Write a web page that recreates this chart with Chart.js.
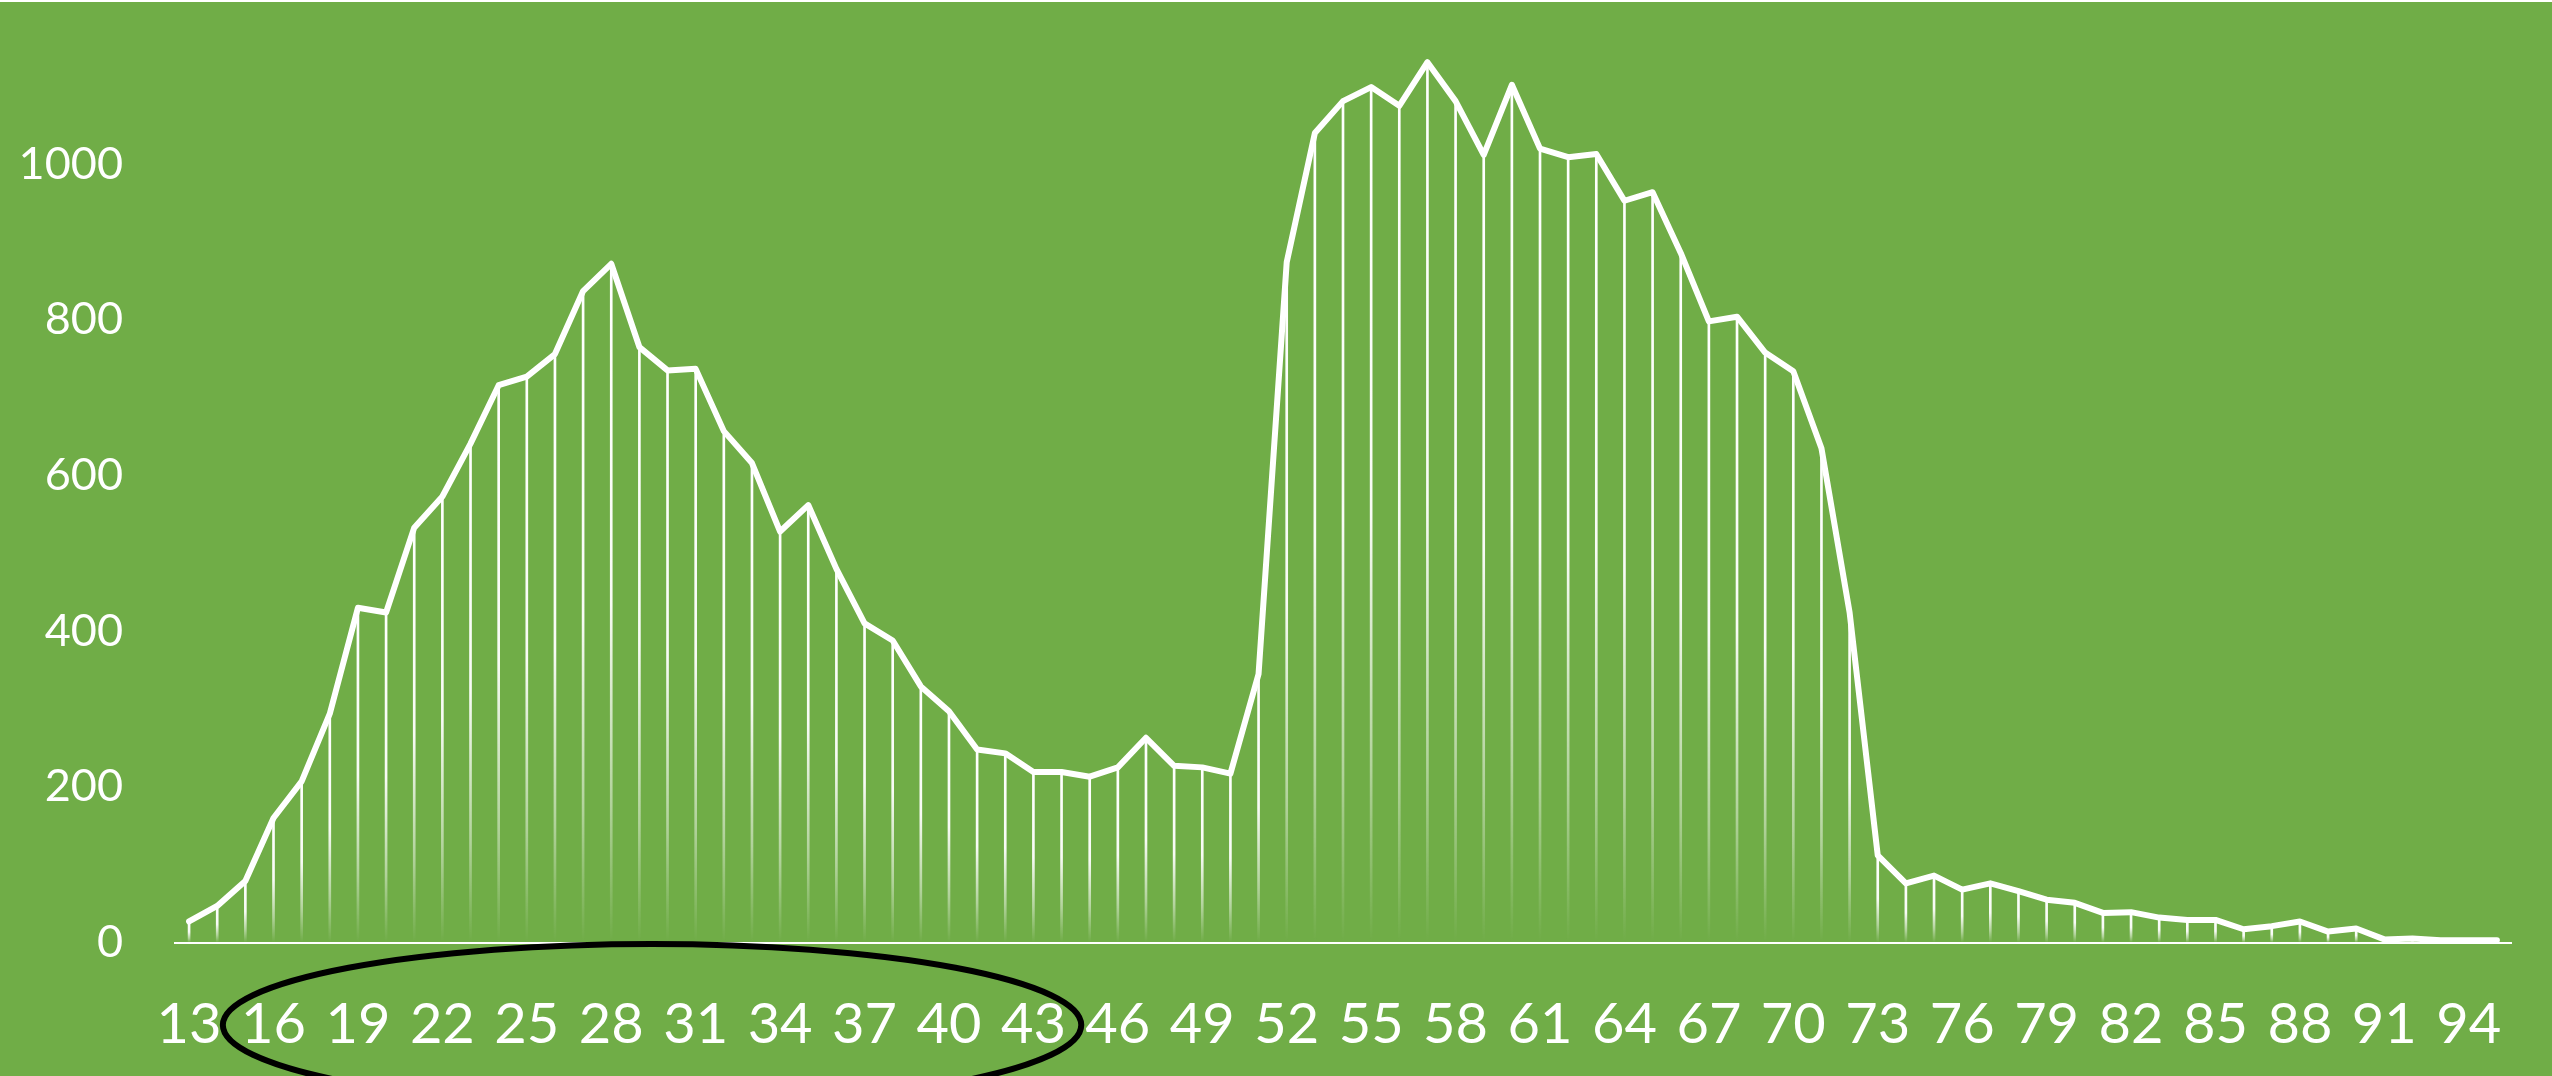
<!DOCTYPE html>
<html>
<head>
<meta charset="utf-8">
<title>Age distribution</title>
<script src="https://cdn.jsdelivr.net/npm/chart.js@4.4.1/dist/chart.umd.min.js"></script>
<style>
  html, body { margin: 0; padding: 0; background: #ffffff; overflow: hidden; }
  #wrap { position: relative; width: 2552px; height: 1076px; background: #70AD47; }
  #topRule { position: absolute; left: 0; top: 0; width: 2552px; height: 2px; background: #ffffff; z-index: 2; }
  canvas { position: absolute; left: 0; top: 0; }
</style>
</head>
<body>
<div id="wrap">
  <div id="topRule"></div>
  <canvas id="chart" width="2552" height="1076"></canvas>
</div>
<script>
// Ages on the category axis (13 … 95)
const ages = [
  13, 14, 15, 16, 17, 18, 19, 20, 21, 22,
  23, 24, 25, 26, 27, 28, 29, 30, 31, 32,
  33, 34, 35, 36, 37, 38, 39, 40, 41, 42,
  43, 44, 45, 46, 47, 48, 49, 50, 51, 52,
  53, 54, 55, 56, 57, 58, 59, 60, 61, 62,
  63, 64, 65, 66, 67, 68, 69, 70, 71, 72,
  73, 74, 75, 76, 77, 78, 79, 80, 81, 82,
  83, 84, 85, 86, 87, 88, 89, 90, 91, 92,
  93, 94, 95
];

// Count for each age
const counts = [
  27, 47, 79, 160, 207, 294, 430, 424, 533, 573,
  641, 716, 727, 756, 837, 872, 765, 735, 737, 657,
  616, 528, 562, 480, 410, 388, 329, 297, 248, 243,
  219, 219, 213, 225, 263, 227, 225, 217, 345, 874,
  1040, 1081, 1099, 1075, 1131, 1081, 1012, 1102, 1020, 1009,
  1013, 953, 964, 886, 798, 804, 758, 734, 635, 424,
  112, 76, 86, 68, 76, 66, 55, 51, 38, 39,
  32, 29, 29, 17, 21, 27, 14, 18, 4, 5,
  3, 3, 3
];

// Value axis ticks that carry a label
const valueTicks = [0, 200, 400, 600, 800, 1000];
// Every third age is labelled
const ageLabelStep = 3;
// Highlighted span of the age axis (category indices)
const ringSpan = [1.2, 31.7];

const WHITE = '#ffffff';
const FONT = 'Lato, "Open Sans", "DejaVu Sans", sans-serif';

// Each drop line fades out towards the axis
function dropLineFill(ctx) {
  const chart = ctx.chart;
  const y = chart.scales && chart.scales.y;
  if (!chart.chartArea || !y || ctx.raw == null) return 'rgba(255,255,255,0.9)';
  const top = y.getPixelForValue(ctx.raw);
  const base = y.getPixelForValue(0);
  if (base - top < 1) return 'rgba(255,255,255,0)';
  const g = chart.ctx.createLinearGradient(0, top, 0, base);
  g.addColorStop(0, 'rgba(255,255,255,1)');
  g.addColorStop(0.5, 'rgba(255,255,255,0.95)');
  g.addColorStop(0.8, 'rgba(255,255,255,0.45)');
  g.addColorStop(1, 'rgba(255,255,255,0)');
  return g;
}

// Black ring around part of the age axis labels
const ringPlugin = {
  id: 'ring',
  afterDraw(chart) {
    const x = chart.scales.x;
    const left = x.getPixelForValue(ringSpan[0]);
    const right = x.getPixelForValue(ringSpan[1]);
    const cx = (left + right) / 2;
    const rx = (right - left) / 2;
    const cy = chart.chartArea.bottom + 82.5;
    const ry = 81;
    const c = chart.ctx;
    c.save();
    c.beginPath();
    c.ellipse(cx, cy, rx, ry, 0, 0, Math.PI * 2);
    c.lineWidth = 6;
    c.strokeStyle = '#000000';
    c.stroke();
    c.restore();
  }
};

new Chart(document.getElementById('chart'), {
  type: 'bar',
  data: {
    labels: ages,
    datasets: [
      {
        type: 'line',
        data: counts,
        order: 0,
        borderColor: WHITE,
        borderWidth: 6,
        borderJoinStyle: 'round',
        borderCapStyle: 'round',
        pointRadius: 0,
        pointHoverRadius: 0,
        tension: 0,
        fill: false
      },
      {
        type: 'bar',
        data: counts,
        order: 1,
        backgroundColor: dropLineFill,
        borderWidth: 0,
        barThickness: 2
      }
    ]
  },
  options: {
    responsive: false,
    animation: false,
    events: [],
    layout: { padding: { top: 8.5, right: 41, bottom: 0, left: 0 } },
    plugins: {
      legend: { display: false },
      tooltip: { enabled: false }
    },
    scales: {
      x: {
        type: 'category',
        offset: true,
        grid: { display: false, drawTicks: false, offset: true },
        border: { display: true, color: WHITE, width: 2 },
        ticks: {
          autoSkip: false,
          maxRotation: 0,
          minRotation: 0,
          padding: 49,
          color: WHITE,
          font: { family: FONT, size: 56 },
          callback(value, index) {
            return index % ageLabelStep === 0 ? String(ages[index]) : null;
          }
        },
        afterFit(scale) {
          scale.height = 133.5;
          scale.paddingLeft = 0;
          scale.paddingRight = 0;
        }
      },
      y: {
        min: 0,
        max: 1200,
        grid: { display: false, drawTicks: false },
        border: { display: false },
        afterBuildTicks(scale) {
          scale.ticks = valueTicks.concat([1200]).map(v => ({ value: v }));
        },
        ticks: {
          padding: 52,
          color: WHITE,
          font: { family: FONT, size: 45 },
          callback(value) {
            return valueTicks.includes(value) ? String(value) : null;
          }
        },
        afterFit(scale) {
          scale.width = 175;
          scale.paddingTop = 0;
          scale.paddingBottom = 0;
        }
      }
    }
  },
  plugins: [ringPlugin]
});
</script>
</body>
</html>
